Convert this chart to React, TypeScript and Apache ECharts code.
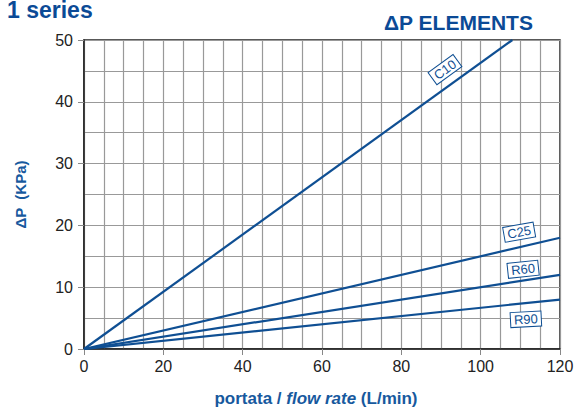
import React, { useEffect, useRef } from "react";
import * as echarts from "echarts";

const seriesNames = ["C10", "C25", "R60", "R90"];
const flowEnd = [108, 120, 120, 120];
const dpEnd = [50, 18, 12, 8];
const labelPos = [
  [91, 45.2],
  [109.7, 18.9],
  [110.7, 12.9],
  [111.4, 4.8],
];
const labelRotate = [36, 10, 6, 3];

const BLUE = "#0f4f93";
const FONT = "Liberation Sans, Arial, sans-serif";

export default function App() {
  const ref = useRef<HTMLDivElement>(null);
  useEffect(() => {
    const chart = echarts.init(ref.current!, null, { renderer: "svg" });
    chart.setOption({
      animation: false,
      textStyle: { fontFamily: FONT },
      graphic: [
        {
          type: "text",
          x: 7,
          y: 21,
          style: { text: "1 series", fill: "#0b4a96", font: "bold 23px " + FONT, textVerticalAlign: "bottom" },
        },
        {
          type: "text",
          x: 384,
          y: 33,
          style: { text: "ΔP ELEMENTS", fill: "#0b4a96", font: "bold 21px " + FONT, textVerticalAlign: "bottom" },
        },
      ],
      grid: {
        left: 84,
        right: 21,
        top: 40,
        bottom: 59,
        show: true,
        borderColor: "#222",
        borderWidth: 1.5,
      },
      xAxis: {
        type: "value",
        min: 0,
        max: 120,
        interval: 20,
        name: "{b|portata / }{i|flow rate}{b| (L/min)}",
        nameLocation: "middle",
        nameGap: 41,
        nameTextStyle: {
          padding: [0, 12, 0, 0],
          rich: {
            b: { fontWeight: "bold", fontSize: 17, color: "#17599e", fontFamily: FONT },
            i: { fontWeight: "bold", fontStyle: "italic", fontSize: 17, color: "#17599e", fontFamily: FONT },
          },
        },
        axisLine: { show: true, lineStyle: { color: "#222", width: 1.5 } },
        axisTick: { show: true, length: 6, lineStyle: { color: "#888" } },
        axisLabel: { color: "#222", fontSize: 16, margin: 9 },
        splitLine: { show: true, lineStyle: { color: "#999", width: 1.2 } },
        minorTick: { show: false, splitNumber: 4 },
        minorSplitLine: { show: true, lineStyle: { color: "#999", width: 1.2 } },
      },
      yAxis: {
        type: "value",
        min: 0,
        max: 50,
        interval: 10,
        name: "ΔP  (KPa)",
        nameLocation: "middle",
        nameGap: 56,
        nameTextStyle: { fontWeight: "bold", fontSize: 15, color: "#17599e" },
        axisLine: { show: true, lineStyle: { color: "#222", width: 1.5 } },
        axisTick: { show: true, length: 6, lineStyle: { color: "#888" } },
        axisLabel: { color: "#222", fontSize: 16, margin: 11 },
        splitLine: { show: true, lineStyle: { color: "#999", width: 1.2 } },
        minorTick: { show: false, splitNumber: 2 },
        minorSplitLine: { show: true, lineStyle: { color: "#999", width: 1.2 } },
      },
      series: seriesNames.map((name, i) => ({
        type: "line",
        name,
        data: [
          [0, 0],
          [flowEnd[i], dpEnd[i]],
        ],
        symbol: "none",
        lineStyle: { color: BLUE, width: 2.2 },
        markPoint: {
          symbol: "circle",
          symbolSize: 0,
          data: [
            {
              coord: labelPos[i],
              label: {
                show: true,
                formatter: name,
                position: "inside",
                rotate: labelRotate[i],
                color: BLUE,
                fontSize: 13,
                backgroundColor: "#fff",
                borderColor: BLUE,
                borderWidth: 1,
                padding: [1, 3, 0, 3],
              },
            },
          ],
        },
      })),
    });
    return () => chart.dispose();
  }, []);
  return <div ref={ref} style={{ width: 581, height: 412, position: "absolute", left: 0, top: 0 }} />;
}
